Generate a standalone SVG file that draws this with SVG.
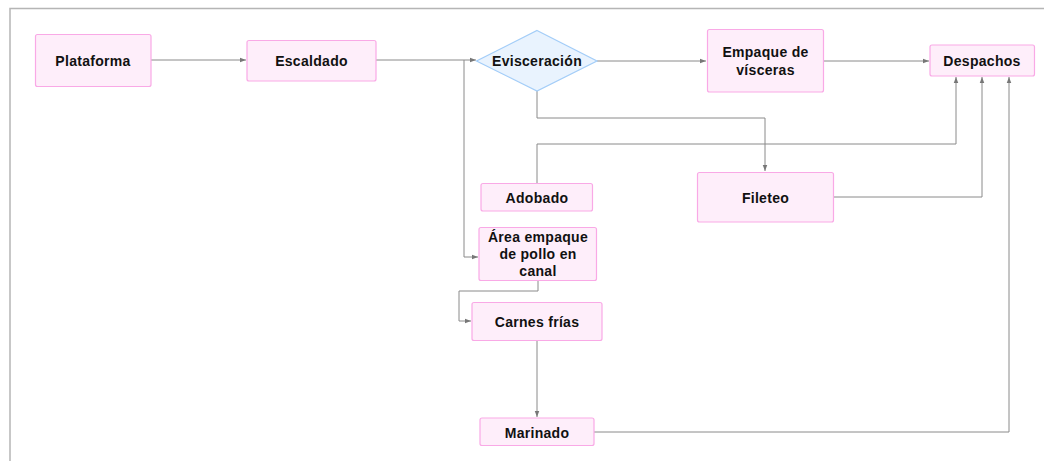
<svg xmlns="http://www.w3.org/2000/svg" width="1044" height="461" viewBox="0 0 1044 461">
<style>
.box{fill:#feeefa;stroke:#f9a9e6;stroke-width:1.2}
.dia{fill:#e9f3fe;stroke:#a3cdf8;stroke-width:1.2}
.t{font-family:"Liberation Sans",Arial,sans-serif;font-weight:bold;font-size:14px;letter-spacing:0.3px;fill:#111;text-anchor:middle;dominant-baseline:central}
.c{fill:none;stroke:#8a8a8a;stroke-width:1}
.frame{fill:none;stroke:#b5b5b5;stroke-width:1.5}
</style>
<defs>
<marker id="ah" viewBox="0 0 8 8" refX="8" refY="4" markerWidth="6" markerHeight="6" orient="auto">
<path d="M0,1 L8,4 L0,7 z" fill="#777"/>
</marker>
</defs>
<rect width="1044" height="461" fill="#fff"/>
<path class="frame" d="M10,461 V8.5 H1044"/>
<g id="connectors">
<path class="c" marker-end="url(#ah)" d="M151,60 H246"/>
<path class="c" marker-end="url(#ah)" d="M376,60 H476"/>
<path class="c" marker-end="url(#ah)" d="M464,60 V257 H478"/>
<path class="c" marker-end="url(#ah)" d="M597,61 H706"/>
<path class="c" marker-end="url(#ah)" d="M823,61 H929"/>
<path class="c" marker-end="url(#ah)" d="M537,91 V118 H765 V171"/>
<path class="c" marker-end="url(#ah)" d="M537,183 V144 H956 V77"/>
<path class="c" marker-end="url(#ah)" d="M833,197 H982 V77"/>
<path class="c" marker-end="url(#ah)" d="M538,281 V291 H459 V321 H471"/>
<path class="c" marker-end="url(#ah)" d="M537,340 V417"/>
<path class="c" marker-end="url(#ah)" d="M594,432 H1009 V77"/>
</g>
<g id="plataforma"><rect class="box" x="35.5" y="34.5" width="115.5" height="52" rx="2"/><text class="t" x="93" y="61">Plataforma</text></g>
<g id="escaldado"><rect class="box" x="247" y="40.5" width="129" height="40.5" rx="2"/><text class="t" x="311.5" y="61">Escaldado</text></g>
<g id="evisceracion"><polygon class="dia" points="537,30.5 597,61 537,91 476.5,61"/><text class="t" x="537" y="61">Evisceración</text></g>
<g id="empaque-visceras"><rect class="box" x="707.5" y="29.5" width="116" height="62.5" rx="2"/><text class="t" x="765.5" y="52">Empaque de</text><text class="t" x="765.5" y="70">vísceras</text></g>
<g id="despachos"><rect class="box" x="930" y="45" width="104.5" height="31" rx="2"/><text class="t" x="982" y="61">Despachos</text></g>
<g id="adobado"><rect class="box" x="481" y="183.5" width="111.5" height="27.5" rx="2"/><text class="t" x="537" y="198">Adobado</text></g>
<g id="fileteo"><rect class="box" x="697.5" y="172.5" width="136" height="49.5" rx="2"/><text class="t" x="765.5" y="198">Fileteo</text></g>
<g id="area-empaque"><rect class="box" x="479" y="227.5" width="117.5" height="53" rx="2"/><text class="t" x="538" y="237">Área empaque</text><text class="t" x="538" y="254">de pollo en</text><text class="t" x="538" y="271">canal</text></g>
<g id="carnes-frias"><rect class="box" x="472" y="302.5" width="130" height="38" rx="2"/><text class="t" x="537" y="322">Carnes frías</text></g>
<g id="marinado"><rect class="box" x="480" y="418" width="114" height="27.5" rx="2"/><text class="t" x="537" y="433">Marinado</text></g>
</svg>
